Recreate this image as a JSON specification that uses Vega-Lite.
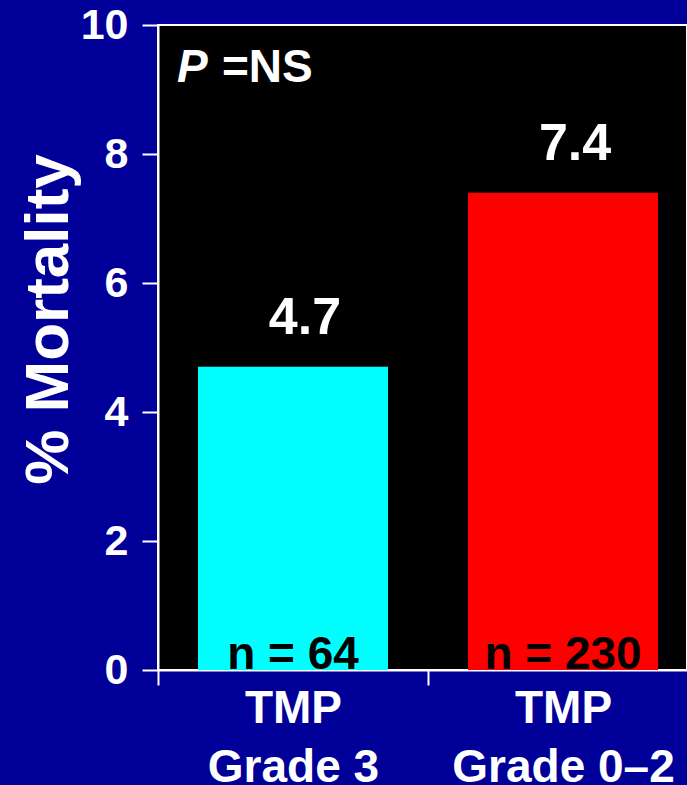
{
  "$schema": "https://vega.github.io/schema/vega-lite/v6.json",
  "width": 529,
  "height": 645,
  "autosize": {"type": "none"},
  "padding": {"left": 158, "top": 25, "right": 0, "bottom": 115},
  "background": "#000099",
  "config": {
    "font": "Liberation Sans",
    "view": {"fill": "#000000", "stroke": "#ffffff", "strokeWidth": 2}
  },
  "data": {
    "values": [
      {"group": "TMP|Grade 3", "mortality": 4.7, "label": "4.7", "n": "n = 64"},
      {"group": "TMP|Grade 0–2", "mortality": 7.4, "label": "7.4", "n": "n = 230"}
    ]
  },
  "encoding": {
    "x": {
      "field": "group",
      "type": "nominal",
      "sort": null,
      "scale": {"range": [0, 540], "paddingInner": 0.2963, "paddingOuter": 0.148},
      "axis": {
        "title": null,
        "labelAngle": 0,
        "labelExpr": "split(datum.label, '|')",
        "labelFont": "Liberation Sans",
        "labelFontSize": 46,
        "labelFontWeight": "bold",
        "labelColor": "#ffffff",
        "labelLineHeight": 59,
        "labelBaseline": "top",
        "labelPadding": 1,
        "labelLimit": 0,
        "labelOverlap": false,
        "labelBound": false,
        "labelOffset": 135,
        "tickBand": "center",
        "tickOffset": -135,
        "tickSize": 15,
        "tickColor": "#ffffff",
        "tickWidth": 2,
        "domainColor": "#ffffff",
        "domainWidth": 2
      }
    }
  },
  "layer": [
    {
      "mark": {"type": "bar"},
      "encoding": {
        "y": {
          "field": "mortality",
          "type": "quantitative",
          "scale": {"domain": [0, 10]},
          "axis": {
            "values": [0, 2, 4, 6, 8, 10],
            "format": "d",
            "grid": false,
            "title": "% Mortality",
            "titleFont": "Liberation Sans",
            "titleFontSize": 62,
            "titleFontWeight": "bold",
            "titleColor": "#ffffff",
            "titleAngle": -90,
            "titleAlign": "center",
            "titleBaseline": "alphabetic",
            "titleX": -91,
            "titleY": 294,
            "labelFont": "Liberation Sans",
            "labelFontSize": 43,
            "labelFontWeight": "bold",
            "labelColor": "#ffffff",
            "labelPadding": 14,
            "labelOverlap": false,
            "tickSize": 16,
            "tickWidth": 2,
            "tickColor": "#ffffff",
            "domainColor": "#ffffff",
            "domainWidth": 2
          }
        },
        "color": {
          "field": "group",
          "type": "nominal",
          "scale": {"domain": ["TMP|Grade 3", "TMP|Grade 0–2"], "range": ["#00ffff", "#ff0000"]},
          "legend": null
        }
      }
    },
    {
      "mark": {"type": "text", "fontSize": 52, "fontWeight": "bold", "color": "#ffffff", "baseline": "alphabetic", "dy": -33, "dx": 12},
      "encoding": {
        "y": {"field": "mortality", "type": "quantitative"},
        "text": {"field": "label"}
      }
    },
    {
      "mark": {"type": "text", "fontSize": 46, "fontWeight": "bold", "color": "#000000", "baseline": "alphabetic", "dy": -1},
      "encoding": {
        "y": {"datum": 0},
        "text": {"field": "n"}
      }
    },
    {
      "data": {"values": [{"txt": "P"}]},
      "mark": {"type": "text", "fontSize": 46, "fontWeight": "bold", "fontStyle": "italic", "color": "#ffffff", "align": "left", "baseline": "alphabetic", "dx": -21, "dy": 57},
      "encoding": {
        "x": {"datum": "TMP|Grade 3", "bandPosition": 0},
        "y": {"datum": 10},
        "text": {"field": "txt"}
      }
    },
    {
      "data": {"values": [{"txt": "=NS"}]},
      "mark": {"type": "text", "fontSize": 46, "fontWeight": "bold", "color": "#ffffff", "align": "left", "baseline": "alphabetic", "dx": 24, "dy": 57},
      "encoding": {
        "x": {"datum": "TMP|Grade 3", "bandPosition": 0},
        "y": {"datum": 10},
        "text": {"field": "txt"}
      }
    }
  ]
}
